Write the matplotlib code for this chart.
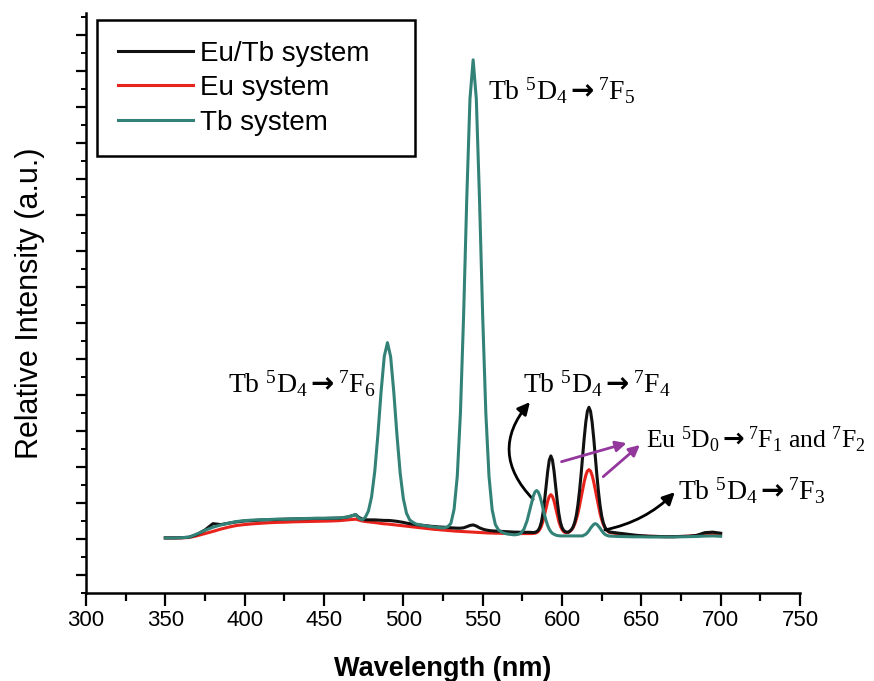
import numpy as np
import matplotlib
matplotlib.use('Agg')
import matplotlib.pyplot as plt
from matplotlib.ticker import MultipleLocator, FixedLocator, NullFormatter

# ---------------- data ----------------
wl_a = np.arange(350, 471, 5)      # 350..470
wl_b = np.arange(472, 581, 2)      # 472..580
wl_c = np.arange(581, 631, 1)      # 581..630
wl_d = np.arange(635, 701, 5)      # 635..700
wavelength = np.concatenate([wl_a, wl_b, wl_c, wl_d])

eutb_a = [3.06, 3.06, 3.07, 3.10, 3.25, 3.50, 3.85, 3.80, 3.88, 3.95, 4.00, 4.02, 4.05,
          4.07, 4.08, 4.10, 4.11, 4.12, 4.13, 4.14, 4.14, 4.15, 4.16, 4.22, 4.35]
eutb_b = [4.20, 4.10, 4.07, 4.06, 4.06, 4.06, 4.05, 4.04, 4.03, 4.03,
          4.02, 4.00, 3.98, 3.95, 3.92, 3.88, 3.85, 3.82, 3.80, 3.78,
          3.76, 3.74, 3.72, 3.70, 3.69, 3.67, 3.66, 3.65, 3.64, 3.62,
          3.61, 3.60, 3.60, 3.62, 3.68, 3.75, 3.78, 3.72, 3.62, 3.55,
          3.50, 3.47, 3.45, 3.44, 3.43, 3.42, 3.41, 3.40, 3.39, 3.38,
          3.38, 3.37, 3.37, 3.37, 3.37]
eutb_c = [3.36, 3.36, 3.37, 3.41, 3.48, 3.64, 3.93, 4.42, 5.11, 5.94,
          6.76, 7.38, 7.61, 7.38, 6.76, 5.94, 5.11, 4.42, 3.93, 3.64,
          3.48, 3.41, 3.38, 3.38, 3.44, 3.52, 3.67, 3.91, 4.29, 4.86,
          5.62, 6.54, 7.57, 8.60, 9.48, 10.09, 10.31, 10.09, 9.48, 8.60,
          7.57, 6.54, 5.62, 4.86, 4.29, 3.91, 3.67, 3.52, 3.44, 3.39]
eutb_d = [3.33, 3.28, 3.22, 3.18, 3.15, 3.14, 3.13, 3.13, 3.14, 3.15, 3.20, 3.35, 3.38, 3.32]

eu_a = [3.06, 3.06, 3.06, 3.08, 3.18, 3.30, 3.42, 3.55, 3.66, 3.75, 3.80, 3.84, 3.87,
        3.90, 3.92, 3.93, 3.95, 3.96, 3.97, 3.98, 3.99, 4.00, 4.02, 4.06, 4.10]
eu_b = [4.05, 4.00, 3.97, 3.95, 3.93, 3.91, 3.89, 3.86, 3.84, 3.83,
        3.81, 3.79, 3.77, 3.75, 3.73, 3.71, 3.69, 3.67, 3.65, 3.63,
        3.61, 3.59, 3.57, 3.55, 3.53, 3.52, 3.50, 3.49, 3.47, 3.46,
        3.44, 3.43, 3.42, 3.41, 3.40, 3.39, 3.38, 3.37, 3.36, 3.35,
        3.34, 3.33, 3.33, 3.32, 3.32, 3.31, 3.31, 3.30, 3.30, 3.30,
        3.30, 3.30, 3.30, 3.30, 3.30]
eu_c = [3.30, 3.31, 3.32, 3.35, 3.41, 3.53, 3.71, 3.98, 4.34, 4.73,
        5.10, 5.36, 5.46, 5.36, 5.10, 4.73, 4.34, 3.98, 3.71, 3.53,
        3.41, 3.35, 3.36, 3.36, 3.42, 3.50, 3.63, 3.82, 4.08, 4.41,
        4.82, 5.26, 5.73, 6.17, 6.53, 6.77, 6.85, 6.77, 6.53, 6.17,
        5.73, 5.26, 4.82, 4.41, 4.08, 3.82, 3.63, 3.50, 3.42, 3.36]
eu_d = [3.29, 3.24, 3.20, 3.17, 3.15, 3.14, 3.13, 3.13, 3.14, 3.16, 3.20, 3.27, 3.28, 3.25]

tb_a = [3.06, 3.06, 3.07, 3.10, 3.28, 3.48, 3.65, 3.78, 3.88, 3.97, 4.02, 4.05, 4.07,
        4.08, 4.10, 4.10, 4.12, 4.13, 4.14, 4.15, 4.15, 4.16, 4.17, 4.22, 4.36]
tb_b = [4.15, 4.06, 4.20, 4.55, 5.34, 6.75, 8.82, 11.19, 13.14, 13.90,
        13.12, 11.15, 8.76, 6.67, 5.24, 4.43, 4.06, 3.93, 3.83, 3.79,
        3.76, 3.73, 3.70, 3.68, 3.66, 3.64, 3.62, 3.62, 3.68, 3.87,
        4.65, 6.48, 10.00, 15.43, 21.93, 27.43, 29.60, 27.43, 21.93, 15.43,
        10.00, 6.48, 4.62, 3.80, 3.50, 3.38, 3.31, 3.27, 3.25, 3.23,
        3.25, 3.31, 3.54, 4.01, 4.71]
tb_c = [5.08, 5.40, 5.61, 5.69, 5.61, 5.40, 5.08, 4.71, 4.34, 4.01,
        3.74, 3.54, 3.40, 3.31, 3.26, 3.22, 3.19, 3.18, 3.17, 3.17,
        3.17, 3.17, 3.17, 3.17, 3.17, 3.17, 3.17, 3.17, 3.17, 3.17,
        3.17, 3.17, 3.17, 3.22, 3.26, 3.35, 3.46, 3.60, 3.71, 3.81,
        3.85, 3.81, 3.71, 3.60, 3.46, 3.35, 3.26, 3.21, 3.18, 3.16]
tb_d = [3.14, 3.13, 3.12, 3.12, 3.11, 3.11, 3.11, 3.11, 3.12, 3.13, 3.14, 3.16, 3.17, 3.15]

eutb = np.array(eutb_a + eutb_b + eutb_c + eutb_d)
eu = np.array(eu_a + eu_b + eu_c + eu_d)
tb = np.array(tb_a + tb_b + tb_c + tb_d)

series_labels = ['Eu/Tb system', 'Eu system', 'Tb system']
x_ticks = [300, 350, 400, 450, 500, 550, 600, 650, 700, 750]

# ---------------- style ----------------
plt.rcParams['font.family'] = ['Liberation Sans', 'DejaVu Sans']
plt.rcParams['mathtext.fontset'] = 'custom'
plt.rcParams['mathtext.rm'] = 'Liberation Serif'
plt.rcParams['mathtext.it'] = 'Liberation Serif:italic'
plt.rcParams['mathtext.bf'] = 'Liberation Serif:bold'
plt.rcParams['mathtext.sf'] = 'DejaVu Sans:bold'

fig = plt.figure(figsize=(8.74, 6.81), dpi=100)
ax = fig.add_axes([0.0984, 0.1292, 0.8169, 0.8517])

c_black = '#111111'
c_red = '#e8231c'
c_teal = '#338278'

ax.plot(wavelength, eutb, color=c_black, lw=2.2, label=series_labels[0], zorder=3)
ax.plot(wavelength, eu, color=c_red, lw=2.2, label=series_labels[1], zorder=2)
ax.plot(wavelength, tb, color=c_teal, lw=2.2, label=series_labels[2], zorder=4)

ax.set_xlim(300, 750)
ax.set_ylim(0, 32.2)
ax.xaxis.set_major_locator(FixedLocator(x_ticks))
ax.xaxis.set_minor_locator(MultipleLocator(25))
ax.yaxis.set_major_locator(FixedLocator(np.arange(1, 32, 2)))
ax.yaxis.set_minor_locator(MultipleLocator(1))
ax.yaxis.set_major_formatter(NullFormatter())

for s in ['top', 'right']:
    ax.spines[s].set_visible(False)
for s in ['left', 'bottom']:
    ax.spines[s].set_linewidth(1.8)

ax.tick_params(axis='x', which='major', length=9.5, width=1.6, direction='out',
               labelsize=16, pad=3)
ax.tick_params(axis='x', which='minor', length=5.5, width=1.6, direction='out')
ax.tick_params(axis='y', which='major', length=7, width=1.6, direction='out')
ax.tick_params(axis='y', which='minor', length=3.5, width=1.4, direction='out')

ax.set_xlabel('Wavelength (nm)', fontsize=19.5, fontweight='bold', labelpad=18)
ax.set_ylabel('Relative Intensity (a.u.)', fontsize=22, labelpad=19)

leg = ax.legend(loc='upper left', bbox_to_anchor=(0.0154, 0.5, 0.4454, 0.4879),
                mode='expand', borderaxespad=0, fontsize=20, handlelength=2.7,
                handletextpad=0.25, labelspacing=0.3, borderpad=0.75,
                frameon=True, fancybox=False, edgecolor='black', framealpha=1)
leg.get_frame().set_linewidth(1.8)

# ---------------- annotations ----------------
tfs = 20
arr = r'\mathsf{\rightarrow}'
ax.text(553.3, 27.4, r'$\mathrm{Tb}\ {}^{5}\mathrm{D}_{4}' + arr + r'{}^{7}\mathrm{F}_{5}$',
        fontsize=tfs, va='baseline', ha='left')
ax.text(389.5, 11.1, r'$\mathrm{Tb}\ {}^{5}\mathrm{D}_{4}' + arr + r'{}^{7}\mathrm{F}_{6}$',
        fontsize=tfs, va='baseline', ha='left')
ax.text(575.4, 11.1, r'$\mathrm{Tb}\ {}^{5}\mathrm{D}_{4}' + arr + r'{}^{7}\mathrm{F}_{4}$',
        fontsize=tfs, va='baseline', ha='left')
ax.text(653.2, 8.06, r'$\mathrm{Eu}\ {}^{5}\mathrm{D}_{0}' + arr + r'{}^{7}\mathrm{F}_{1}\ \mathrm{and}\ {}^{7}\mathrm{F}_{2}$',
        fontsize=18.5, va='baseline', ha='left', clip_on=False)
ax.text(673.0, 5.17, r'$\mathrm{Tb}\ {}^{5}\mathrm{D}_{4}' + arr + r'{}^{7}\mathrm{F}_{3}$',
        fontsize=tfs, va='baseline', ha='left', clip_on=False)

arrow_black = dict(arrowstyle='-|>', color='black', lw=2.0, mutation_scale=18,
                   shrinkA=0, shrinkB=0)
ax.annotate('', xy=(579.8, 10.6), xytext=(581.8, 5.2),
            arrowprops=dict(connectionstyle='arc3,rad=-0.45', **arrow_black))
ax.annotate('', xy=(671.1, 5.6), xytext=(627.0, 3.5),
            arrowprops=dict(connectionstyle='arc3,rad=0.15', **arrow_black))

arrow_purple = dict(arrowstyle='-|>', color='#93379c', lw=2.0, mutation_scale=16,
                    shrinkA=0, shrinkB=0)
ax.annotate('', xy=(640.7, 8.32), xytext=(599.7, 7.29), arrowprops=arrow_purple)
ax.annotate('', xy=(649.1, 8.22), xytext=(626.0, 6.46), arrowprops=arrow_purple)

fig.savefig('out.png', dpi=100)
